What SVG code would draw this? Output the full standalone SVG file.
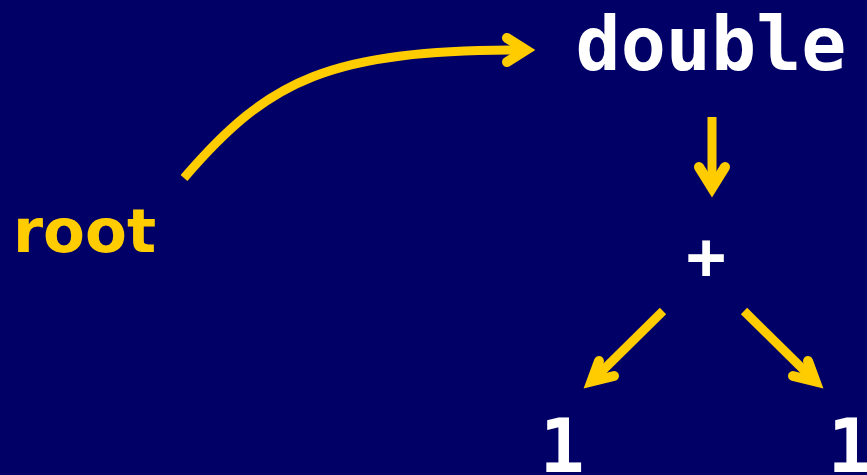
<svg xmlns="http://www.w3.org/2000/svg" width="867" height="475" viewBox="0 0 867 475">
<style>
.code{font-family:"DejaVu Sans Mono","Liberation Mono",monospace;font-weight:bold;fill:#ffffff;text-anchor:middle}
.lbl{font-family:"DejaVu Sans","Liberation Sans",sans-serif;font-weight:bold;fill:#ffcc00}
.arr{fill:none;stroke:#ffcc00;stroke-width:9}
.head{fill:none;stroke:#ffcc00;stroke-width:10;stroke-linecap:round;stroke-linejoin:miter;stroke-miterlimit:10}
</style>
<rect width="867" height="475" fill="#000066"/>
<g id="connectors">
<path class="arr" d="M184,178 C270,78 330,50 524,50"/>
<path class="head" d="M507,38 L526,50 L507,62"/>
<path class="arr" d="M712,117 L712,186"/>
<path class="head" d="M699,167 L712,188 L725,167"/>
<path class="arr" d="M663,311 L594,379"/>
<path class="head" d="M599,361 L591.5,381.5 L614,376"/>
<path class="arr" d="M744,311 L813,379"/>
<path class="head" d="M808,361 L815.5,381.5 L793,376"/>
</g>
<g id="root"><text class="lbl" x="13" y="252" font-size="61">root</text></g>
<g id="double"><text class="code" x="711" y="70" font-size="75">double</text></g>
<g id="plus"><text class="code" x="706" y="279" font-size="66">+</text></g>
<g id="one-left"><text class="code" x="562" y="472" font-size="75">1</text></g>
<g id="one-right"><text class="code" x="850" y="472" font-size="75">1</text></g>
</svg>
